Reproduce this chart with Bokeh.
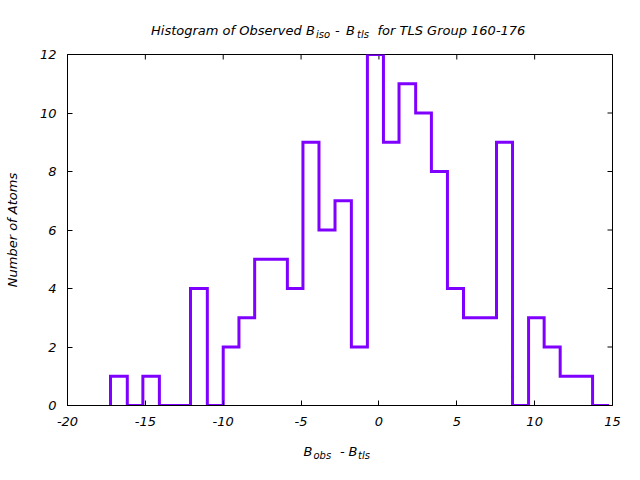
from bokeh.plotting import figure
from bokeh.models import Range1d, FixedTicker, LinearAxis
from bokeh.layouts import column
from bokeh.core.properties import value
from bokeh.embed import file_html
from bokeh.resources import INLINE
import math

# ---- data ----
bin_edges = [-17.24, -16.16, -15.16, -14.10, -13.07, -12.10, -11.02, -10.00,
             -8.99, -7.98, -6.95, -5.88, -4.88, -3.85, -2.82, -1.77, -0.74,
             0.29, 1.29, 2.36, 3.37, 4.40, 5.43, 6.49, 7.55, 8.58, 9.61,
             10.61, 11.64, 12.68, 13.72, 14.79]
counts = [1, 0, 1, 0, 0, 4, 0, 2, 3, 5, 5, 4, 9, 6, 7, 2, 12, 9, 11, 10, 8,
          4, 3, 3, 9, 0, 3, 2, 1, 1, 0]
x_ticks = [-20, -15, -10, -5, 0, 5, 10, 15]
y_ticks = [0, 2, 4, 6, 8, 10, 12]

title_parts = ["Histogram of Observed B", "iso", "-", "B", "tls",
               "for TLS Group 160-176"]
title_sub = [False, True, False, False, True, False]
xlabel_parts = ["B", "obs", "-", "B", "tls"]
xlabel_sub = [False, True, False, False, True]
ylabel = "Number of Atoms"

X_MIN, X_MAX = -20, 15
Y_MIN, Y_MAX = 0, 12

# ---- layout (pixels) ----
W, H = 640, 480
LEFT, RIGHT, TOP, BOTTOM = 67, 612, 54, 405
TITLE_H = 45
XLAB_H = 45
MAIN_H = H - TITLE_H - XLAB_H
FONT = "DejaVu Sans"
FS = "13px"
SUB_FS = "10px"
COLOR = "#8000ff"


def fmt(v):
    return ("-" + str(abs(v))) if v < 0 else str(v)


def text_fig(h):
    # frames in a column are aligned with the main frame (LEFT..RIGHT),
    # so map that span to page pixel coordinates
    f = figure(width=W, height=h, x_range=Range1d(LEFT, RIGHT),
               y_range=Range1d(h, 0),
               output_backend="svg", toolbar_location=None, min_border=0,
               x_axis_location=None, y_axis_location=None)
    f.grid.visible = False
    f.outline_line_color = None
    f.background_fill_color = "white"
    f.border_fill_color = "white"
    return f


def put_text(f, parts, subs, lefts, base, sub_drop):
    main_i = [i for i, s in enumerate(subs) if not s]
    sub_i = [i for i, s in enumerate(subs) if s]
    f.text(x=[lefts[i] for i in main_i], y=[base] * len(main_i),
           text=[parts[i] for i in main_i], text_font=value(FONT),
           text_font_style="italic", text_font_size=FS, text_color="black",
           text_align="left", text_baseline="alphabetic")
    f.text(x=[lefts[i] for i in sub_i], y=[base + sub_drop] * len(sub_i),
           text=[parts[i] for i in sub_i], text_font=value(FONT),
           text_font_style="italic", text_font_size=SUB_FS, text_color="black",
           text_align="left", text_baseline="alphabetic")


# ---- title strip ----
ft = text_fig(TITLE_H)
put_text(ft, title_parts, title_sub, [150.5, 315.5, 334.5, 345.5, 356.5, 377],
         30, 4)

# ---- main plot ----
p = figure(width=W, height=MAIN_H, output_backend="svg", toolbar_location=None,
           x_range=Range1d(X_MIN, X_MAX), y_range=Range1d(Y_MIN, Y_MAX),
           min_border_left=LEFT, min_border_right=W - RIGHT,
           min_border_top=TOP - TITLE_H,
           min_border_bottom=TITLE_H + MAIN_H - BOTTOM,
           x_axis_location=None, y_axis_location=None)
p.grid.visible = False
p.outline_line_color = "black"
p.outline_line_width = 1
p.background_fill_color = "white"
p.border_fill_color = "white"


def make_axis(ticks):
    ax = LinearAxis(ticker=FixedTicker(ticks=ticks))
    ax.minor_tick_line_color = None
    ax.major_tick_in = 5
    ax.major_tick_out = 0
    ax.axis_line_color = "black"
    ax.major_tick_line_color = "black"
    ax.axis_line_width = 1
    ax.major_label_overrides = {t: fmt(t) for t in ticks}
    ax.major_label_text_font = FONT
    ax.major_label_text_font_style = "italic"
    ax.major_label_text_font_size = FS
    ax.major_label_text_color = "black"
    ax.major_label_standoff = 11
    return ax


p.add_layout(make_axis(x_ticks), "below")
yax = make_axis(y_ticks)
yax.axis_label = ylabel
yax.axis_label_text_font = FONT
yax.axis_label_text_font_style = "italic"
yax.axis_label_text_font_size = FS
yax.axis_label_text_color = "black"
yax.axis_label_standoff = 17
p.add_layout(yax, "left")

# mirrored inward ticks on top and right edges
p.ray(x=x_ticks, y=Y_MAX, length=5, length_units="screen", angle=-math.pi / 2,
      line_color="black", line_width=1)
p.ray(x=X_MAX, y=y_ticks, length=5, length_units="screen", angle=math.pi,
      line_color="black", line_width=1)

# histogram outline (steps)
xs = [bin_edges[0]]
ys = [0]
for i, c in enumerate(counts):
    xs += [bin_edges[i], bin_edges[i + 1]]
    ys += [c, c]
p.line(xs, ys, line_color=COLOR, line_width=3, line_join="miter")

# ---- x label strip ----
fx = text_fig(XLAB_H)
put_text(fx, xlabel_parts, xlabel_sub, [303, 313, 339.5, 348, 357.5],
         451 - (TITLE_H + MAIN_H), 4)

layout = column(ft, p, fx, spacing=0)
open("out.html", "w").write(file_html(layout, INLINE))
